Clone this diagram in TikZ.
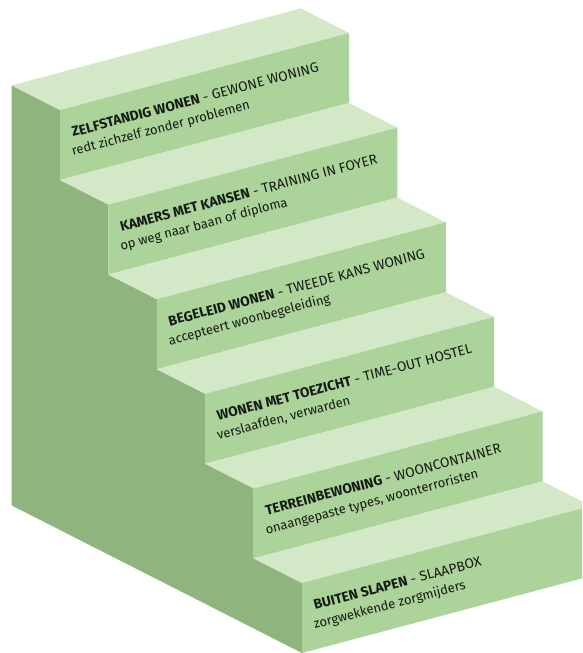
\documentclass[tikz,border=0pt]{standalone}
\usepackage{fontspec}
\setmainfont{Fira Sans}
\usetikzlibrary{calc}
\definecolor{sidegreen}{HTML}{8FB47E}
\definecolor{risergreen}{HTML}{ABD39A}
\definecolor{treadgreen}{HTML}{D2E8C6}
\definecolor{inkgrey}{HTML}{151A14}

\begin{document}
\begin{tikzpicture}[x=1pt, y=-1pt,
			side/.style={fill=sidegreen},
			riser/.style={fill=risergreen},
			tread/.style={fill=treadgreen},
			head/.style={anchor=base west, rotate=14.9, inner sep=0pt, text=inkgrey,
				font=\fontsize{13.8}{15}\selectfont},
			sub/.style={head, font=\fontsize{13}{15}\selectfont}]
	\useasboundingbox (0,0) rectangle (582,653);
	\clip (0,0) rectangle (582,653);
	% front-left top corner of every riser, top step first
	\foreach \k in {0,...,5}
		\coordinate (fl\k) at (60+48.4*\k, 110+94.6*\k);
	% left side of the stairs
	\fill[side] (11.6,85.4) -- (fl0) -- ++(0,70) -- (fl1) -- ++(0,70) -- (fl2) -- ++(0,70)
		-- (fl3) -- ++(0,70) -- (fl4) -- ++(0,70) -- (fl5) -- ++(0,70) -- (11.6,505.4) -- cycle;
	% treads and risers
	\foreach \k in {0,...,5} {
		\fill[tread] (fl\k) -- ++(-48.4,-24.6) -- ++(289,-77) -- ++(48.4,24.6) -- cycle;
		\fill[riser] (fl\k) -- ++(289,-77) -- ++(0,70) -- ++(-289,77) -- cycle;
	}
	% labels
	\foreach \k/\name/\kind/\who in {%
			0/{ZELFSTANDIG WONEN}/{GEWONE WONING}/{redt zichzelf zonder problemen},
			1/{KAMERS MET KANSEN}/{TRAINING IN FOYER}/{op weg naar baan of diploma},
			2/{BEGELEID WONEN}/{TWEEDE KANS WONING}/{accepteert woonbegeleiding},
			3/{WONEN MET TOEZICHT}/{TIME-OUT HOSTEL}/{verslaafden, verwarden},
			4/{TERREINBEWONING}/{WOONCONTAINER}/{onaangepaste types, woonterroristen},
			5/{BUITEN SLAPEN}/{SLAAPBOX}/{zorgwekkende zorgmijders}} {
		\node[head] (t\k) at ($(fl\k)+(13,27)$) {\textbf{\name} - \kind};
		\node[sub] (s\k) at ($(fl\k)+(13,46)$) {\who};
	}
\end{tikzpicture}
\end{document}
